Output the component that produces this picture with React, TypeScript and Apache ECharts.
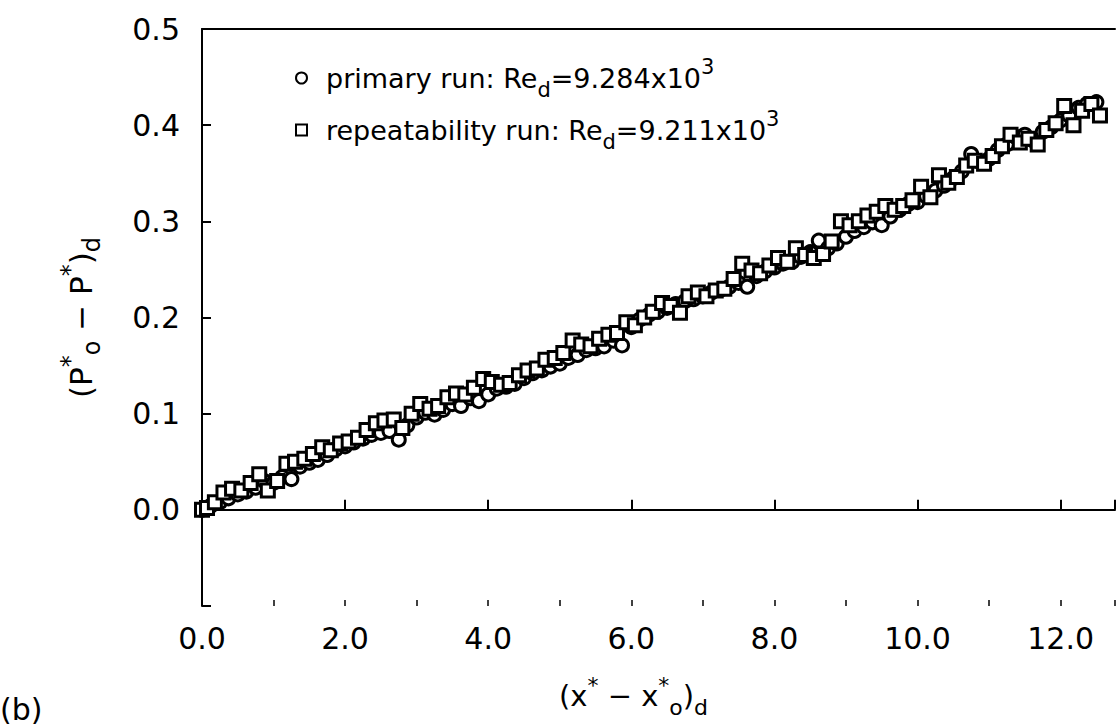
import React, { useEffect, useRef } from "react";
import * as echarts from "echarts";

const primaryX = [
  0.0, 0.12, 0.25, 0.37, 0.5, 0.62, 0.75, 0.87, 1.0, 1.12, 1.25, 1.37, 1.5, 1.62, 1.75, 1.87,
  2.0, 2.12, 2.25, 2.37, 2.5, 2.62, 2.75, 2.87, 3.0, 3.12, 3.25, 3.37, 3.5, 3.62, 3.75, 3.87,
  4.0, 4.12, 4.25, 4.37, 4.5, 4.62, 4.75, 4.87, 5.0, 5.12, 5.25, 5.37, 5.5, 5.62, 5.75, 5.87,
  6.0, 6.12, 6.25, 6.37, 6.5, 6.62, 6.75, 6.87, 7.0, 7.12, 7.25, 7.37, 7.5, 7.62, 7.75, 7.87,
  8.0, 8.12, 8.25, 8.37, 8.5, 8.62, 8.75, 8.87, 9.0, 9.12, 9.25, 9.37, 9.5, 9.62, 9.75, 9.87,
  10.0, 10.12, 10.25, 10.37, 10.5, 10.62, 10.75, 10.87, 11.0, 11.12, 11.25, 11.37, 11.5, 11.62,
  11.75, 11.87, 12.0, 12.12, 12.25, 12.37, 12.5,
];
const primaryY = [
  0.0, 0.004, 0.008, 0.012, 0.016, 0.019, 0.023, 0.03, 0.028, 0.034, 0.032, 0.045, 0.049, 0.052, 0.057, 0.063,
  0.066, 0.07, 0.074, 0.078, 0.08, 0.082, 0.073, 0.088, 0.096, 0.101, 0.099, 0.104, 0.11, 0.108, 0.116, 0.113,
  0.12, 0.126, 0.128, 0.131, 0.137, 0.142, 0.145, 0.149, 0.152, 0.158, 0.161, 0.166, 0.168, 0.17, 0.176, 0.171,
  0.19, 0.198, 0.203, 0.206, 0.21, 0.214, 0.217, 0.219, 0.222, 0.226, 0.229, 0.232, 0.236, 0.232, 0.243, 0.248,
  0.252, 0.256, 0.258, 0.263, 0.268, 0.28, 0.272, 0.277, 0.284, 0.29, 0.294, 0.299, 0.296, 0.305, 0.312, 0.318,
  0.32, 0.326, 0.332, 0.337, 0.345, 0.352, 0.37, 0.362, 0.365, 0.374, 0.38, 0.388, 0.39, 0.384,
  0.393, 0.398, 0.405, 0.41, 0.418, 0.422, 0.424,
];
const repeatX = [
  0.0, 0.07, 0.18, 0.3, 0.42, 0.55, 0.68, 0.8, 0.92, 1.05, 1.18, 1.3, 1.43, 1.55, 1.68, 1.8,
  1.93, 2.05, 2.18, 2.3, 2.43, 2.55, 2.68, 2.8, 2.93, 3.05, 3.18, 3.3, 3.43, 3.55, 3.68, 3.8,
  3.93, 4.05, 4.18, 4.3, 4.43, 4.55, 4.68, 4.8, 4.93, 5.05, 5.18, 5.3, 5.43, 5.55, 5.68, 5.8,
  5.93, 6.05, 6.18, 6.3, 6.43, 6.55, 6.68, 6.8, 6.93, 7.05, 7.18, 7.3, 7.43, 7.55, 7.68, 7.8,
  7.93, 8.05, 8.18, 8.3, 8.43, 8.55, 8.68, 8.8, 8.93, 9.05, 9.18, 9.3, 9.43, 9.55, 9.68, 9.8,
  9.93, 10.05, 10.18, 10.3, 10.43, 10.55, 10.68, 10.8, 10.93, 11.05, 11.18, 11.3, 11.43, 11.55,
  11.68, 11.8, 11.93, 12.05, 12.18, 12.3, 12.43, 12.55,
];
const repeatY = [
  0.0, 0.002, 0.008, 0.018, 0.022, 0.02, 0.028, 0.037, 0.02, 0.03, 0.048, 0.05, 0.053, 0.058, 0.065, 0.062,
  0.069, 0.071, 0.075, 0.083, 0.09, 0.093, 0.094, 0.085, 0.1, 0.11, 0.105, 0.108, 0.117, 0.121, 0.12, 0.127,
  0.136, 0.133, 0.13, 0.132, 0.14, 0.145, 0.147, 0.156, 0.158, 0.163, 0.176, 0.172, 0.17, 0.178, 0.182, 0.184,
  0.195, 0.192, 0.2, 0.206, 0.215, 0.212, 0.205, 0.222, 0.226, 0.222, 0.228, 0.23, 0.24, 0.256, 0.249, 0.246,
  0.254, 0.262, 0.258, 0.272, 0.265, 0.262, 0.266, 0.279, 0.3, 0.296, 0.3, 0.306, 0.31, 0.316, 0.312, 0.316,
  0.322, 0.336, 0.325, 0.348, 0.34, 0.346, 0.358, 0.363, 0.36, 0.368, 0.378, 0.39, 0.382, 0.386,
  0.38, 0.395, 0.402, 0.42, 0.4, 0.415, 0.422, 0.41,
];

const yTicks = [-0.1, 0.0, 0.1, 0.2, 0.3, 0.4, 0.5];
const xLabelStep = 2;

const FONT = "DejaVu Sans";

export default function App() {
  const ref = useRef<HTMLDivElement>(null);
  useEffect(() => {
    if (!ref.current) return;
    const chart = echarts.init(ref.current, undefined, { renderer: "svg" });
    const rich = (size: number) => ({
      sup: { fontSize: size, lineHeight: size, verticalAlign: "top", fontFamily: FONT, color: "#000" },
      sub: { fontSize: size, lineHeight: size, verticalAlign: "bottom", fontFamily: FONT, color: "#000" },
    });
    const legendNames: Record<string, string> = {
      primary: "primary run: Re{sub|d}=9.284x10{sup|3}",
      repeat: "repeatability run: Re{sub|d}=9.211x10{sup|3}",
    };
    const axisCommon = {
      axisLine: { show: true, lineStyle: { color: "#000", width: 2 } },
      splitLine: { show: false },
    };
    chart.setOption({
      animation: false,
      backgroundColor: "#fff",
      grid: { left: 202, top: 29, right: 0, bottom: 122, containLabel: false },
      legend: {
        orient: "vertical",
        left: 290,
        top: 51,
        itemGap: 8,
        itemWidth: 11,
        itemHeight: 11,
        data: [
          { name: "primary", icon: "circle" },
          { name: "repeat", icon: "rect" },
        ],
        formatter: (n: string) => legendNames[n],
        textStyle: {
          fontFamily: FONT,
          fontSize: 27,
          color: "#000",
          lineHeight: 44,
          padding: [0, 0, 0, 14],
          rich: rich(21),
        },
      },
      xAxis: [
        {
          type: "value",
          min: 0,
          max: 12.76,
          interval: 2,
          position: "bottom",
          ...axisCommon,
          axisTick: { show: true, inside: true, length: 10, lineStyle: { color: "#000", width: 2 } },
          axisLabel: {
            fontFamily: FONT,
            fontSize: 30,
            color: "#000",
            margin: 17,
            formatter: (v: number) => (Math.abs(v % xLabelStep) < 1e-9 ? v.toFixed(1) : ""),
          },
          name: "(x{sup|*} − x{sup|*}{sub|o}){sub|d}",
          nameLocation: "middle",
          nameGap: 68,
          nameTextStyle: {
            fontFamily: FONT,
            fontSize: 29,
            color: "#000",
            lineHeight: 44,
            padding: [0, 50, 0, 0],
            rich: rich(22),
          },
        },
        {
          type: "value",
          min: 0,
          max: 12.76,
          interval: 1,
          position: "bottom",
          axisLine: { show: false },
          splitLine: { show: false },
          axisTick: { show: true, inside: true, length: 6, lineStyle: { color: "#000", width: 1.5 } },
          axisLabel: { show: false },
        },
        {
          type: "value",
          min: 0,
          max: 12.76,
          position: "top",
          ...axisCommon,
          axisTick: { show: false },
          axisLabel: { show: false },
        },
      ],
      yAxis: {
        type: "value",
        min: yTicks[0],
        max: yTicks[yTicks.length - 1],
        interval: 0.1,
        ...axisCommon,
        axisTick: { show: true, inside: true, length: 9, lineStyle: { color: "#000", width: 2 } },
        axisLabel: {
          fontFamily: FONT,
          fontSize: 30,
          color: "#000",
          margin: 22,
          formatter: (v: number) => (v < -0.05 ? "" : v.toFixed(1)),
        },
        name: "(P{sup|*}{sub|o} − P{sup|*}){sub|d}",
        nameLocation: "middle",
        nameRotate: 90,
        nameGap: 98,
        nameTextStyle: {
          fontFamily: FONT,
          fontSize: 31,
          color: "#000",
          lineHeight: 46,
          rich: rich(24),
        },
      },
      graphic: [
        {
          type: "text",
          left: 0,
          top: 694,
          style: { text: "(b)", font: `30px "${FONT}"`, fill: "#000" },
        },
      ],
      series: [
        {
          name: "primary",
          type: "scatter",
          xAxisIndex: 0,
          symbol: "circle",
          symbolSize: 13,
          itemStyle: { color: "#fff", borderColor: "#000", borderWidth: 3, opacity: 1 },
          data: primaryX.map((x, i) => [x, primaryY[i]]),
        },
        {
          name: "repeat",
          type: "scatter",
          xAxisIndex: 0,
          symbol: "rect",
          symbolSize: 13,
          itemStyle: { color: "#fff", borderColor: "#000", borderWidth: 3, opacity: 1 },
          data: repeatX.map((x, i) => [x, repeatY[i]]),
        },
      ],
    });
    return () => chart.dispose();
  }, []);
  return <div ref={ref} style={{ width: 1118, height: 728, position: "absolute", left: 0, top: 0 }} />;
}
